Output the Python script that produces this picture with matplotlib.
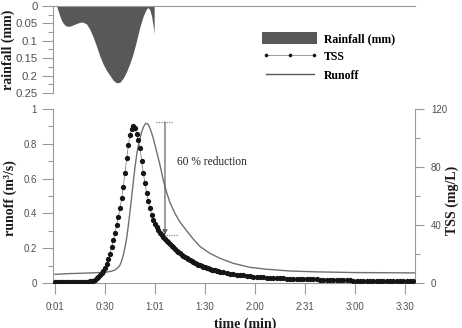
import numpy as np
import matplotlib
matplotlib.use("Agg")
import matplotlib.pyplot as plt
from matplotlib.patches import Patch
from matplotlib.lines import Line2D

# ---- data -----------------------------------------------------------------
# rainfall hyetograph, minutes / mm
RAIN_T = [2, 3, 4, 5, 6, 7, 8, 10, 12, 14, 16, 17, 18, 20, 22, 24, 26, 28, 30,
          32, 34, 36, 38, 40, 42, 44, 46, 48, 50, 52, 54, 56, 57, 58, 59, 60, 60.5]
RAIN_MM = [0.0, 0.015, 0.03, 0.042, 0.05, 0.055, 0.058, 0.058, 0.054, 0.05, 0.047,
           0.046, 0.047, 0.052, 0.068, 0.09, 0.117, 0.145, 0.168, 0.186, 0.2, 0.214,
           0.221, 0.219, 0.207, 0.188, 0.164, 0.135, 0.098, 0.059, 0.028, 0.007,
           0.005, 0.012, 0.03, 0.06, 0.08]

# runoff hydrograph, minutes / m3/s
RUNOFF_T = [1, 10, 20, 28, 32, 35, 37, 39, 40, 41, 42, 43, 44, 45, 46, 47, 48, 49,
            50, 51, 52, 53, 54, 55, 56, 57, 58, 59, 60, 61, 62, 64, 66, 68, 70, 73,
            76, 80, 84, 88, 94, 100, 108, 118, 128, 142, 158, 181, 200, 217]
RUNOFF = [0.050, 0.054, 0.057, 0.060, 0.063, 0.068, 0.075, 0.090, 0.103, 0.128,
          0.161, 0.205, 0.257, 0.33, 0.41, 0.495, 0.582, 0.665, 0.736, 0.79, 0.83,
          0.868, 0.895, 0.912, 0.918, 0.91, 0.889, 0.862, 0.83, 0.793, 0.755, 0.678,
          0.59, 0.52, 0.462, 0.40, 0.35, 0.30, 0.252, 0.21, 0.17, 0.142, 0.113,
          0.09, 0.079, 0.069, 0.064, 0.060, 0.059, 0.058]

# TSS pollutograph, mg/L: every minute 1..100, then every 2 minutes 102..216
TSS_1MIN = [1.0] * 20 + [
    1.0, 1.1, 1.3, 1.7, 2.3, 3.2, 4.3, 5.6, 7.0, 8.4,
    10.5, 13.0, 16.3, 20.2, 24.7, 29.5, 34.5, 40.0, 45.5, 51.5,
    58.5, 66.5, 76.0, 86.0, 95.0, 102.0, 106.5, 108.5, 107.0, 103.0,
    98.5, 93.0, 84.0, 76.0, 69.0, 62.0, 56.5, 51.5, 47.0, 43.5,
    40.8, 38.5, 36.5, 34.8, 33.2, 31.8, 30.5, 29.3, 28.0, 26.8,
    25.7, 24.6, 23.5, 22.4, 21.4, 20.4, 19.5, 18.7, 17.9, 17.1,
    16.4, 15.7, 15.0, 14.4, 13.8, 13.2, 12.7, 12.2, 11.7, 11.2,
    10.8, 10.4, 10.0, 9.6, 9.3, 9.0, 8.7, 8.4, 8.1, 7.8]
TSS_2MIN = [7.3, 6.9, 6.5, 6.1, 5.8, 5.5, 5.2, 4.9, 4.6, 4.4,
            4.2, 4.0, 3.9, 3.7, 3.6, 3.5, 3.4, 3.3, 3.2, 3.1,
            3.0, 2.9, 2.85, 2.8, 2.7, 2.65, 2.6, 2.5, 2.45, 2.4,
            2.3, 2.25, 2.2, 2.1, 2.05, 2.0, 1.9, 1.85, 1.8, 1.7,
            1.65, 1.6, 1.55, 1.5, 1.45, 1.4, 1.4, 1.35, 1.3, 1.3,
            1.25, 1.2, 1.2, 1.2, 1.15, 1.15, 1.1, 1.1]

XTICKS = [1, 31, 61, 91, 121, 151, 181, 211]
XTICK_LABELS = ["0:01", "0:30", "1:01", "1:30", "2:00", "2:31", "3:00", "3:30"]

# peak reduction marker (minutes, m3/s)
RED_X = 67
RED_TOP = 0.925
RED_BOT = 0.276

# ---- style -----------------------------------------------------------------
SANS = "Liberation Sans"
SERIF = "Liberation Serif"
SPINE = "#9a9a9a"
TICKC = "#505050"
plt.rcParams["font.family"] = SANS

tss_t = np.concatenate([np.arange(1, 101), np.arange(102, 217, 2)])
tss = np.array(TSS_1MIN + TSS_2MIN)

fig = plt.figure(figsize=(4.62, 3.28), dpi=100)
ax_r = fig.add_axes([0.1147, 0.7165, 0.7835, 0.2652])
ax = fig.add_axes([0.1147, 0.1372, 0.7835, 0.5305])
ax2 = ax.twinx()

XLIM = (-0.2, 217)


def style_spines(a, keep):
    for s in ["left", "right", "top", "bottom"]:
        a.spines[s].set_visible(s in keep)
        a.spines[s].set_color(SPINE)
        a.spines[s].set_linewidth(0.8)


# ---- rainfall (top) -------------------------------------------------------
ax_r.fill_between(RAIN_T, 0, RAIN_MM, color="#585858", lw=0)
ax_r.set_xlim(*XLIM)
ax_r.set_ylim(0.25, 0)
ax_r.set_xticks([])
ax_r.set_yticks([0, 0.05, 0.1, 0.15, 0.2, 0.25])
ax_r.set_yticklabels(["0", "0.05", "0.1", "0.15", "0.2", "0.25"])
ax_r.set_yticks(np.arange(0.025, 0.25, 0.05), minor=True)
style_spines(ax_r, ["left", "top"])
ax_r.patch.set_alpha(0)

# ---- runoff + TSS (bottom) ------------------------------------------------
ax.plot(RUNOFF_T, RUNOFF, color="#707070", lw=1.0, zorder=3)
ax2.plot(tss_t, tss, color="#8a8a8a", lw=0.6, marker="o", ms=3.8,
         mfc="#151515", mec="none", zorder=4)

ax.set_xlim(*XLIM)
ax.set_ylim(0, 1)
ax2.set_ylim(0, 120)
ax.set_xticks(XTICKS)
ax.set_xticklabels(XTICK_LABELS)
ax.set_yticks([0, 0.2, 0.4, 0.6, 0.8, 1.0])
ax.set_yticklabels(["0", "0.2", "0.4", "0.6", "0.8", "1"])
ax.set_yticks(np.arange(0.1, 1.0, 0.2), minor=True)
ax2.set_yticks([0, 40, 80, 120])
ax2.set_yticks([20, 60, 100], minor=True)
style_spines(ax, ["left", "bottom"])
style_spines(ax2, ["right"])

for a in (ax_r, ax, ax2):
    a.tick_params(which="major", length=8, width=0.8, color=SPINE,
                  labelsize=6.9, labelcolor=TICKC, pad=3.5)
    a.tick_params(which="minor", length=3.8, width=0.8, color=SPINE)
ax_r.tick_params(axis="y", labelsize=8.2, pad=3)
ax.tick_params(axis="x", length=8, pad=6)
ax2.tick_params(axis="y", which="major", length=6.5, pad=5)

# 60 % reduction marker
ax.plot([61.6, 71.8], [RED_TOP, RED_TOP], color="#888888", lw=0.9, ls=(0, (1, 1)))
ax.plot([67.6, 74.8], [RED_BOT, RED_BOT], color="#888888", lw=0.9, ls=(0, (1, 1)))
ax.annotate("", xy=(RED_X, RED_BOT), xytext=(RED_X, RED_TOP),
            arrowprops=dict(arrowstyle="-|>", color="#666666", lw=0.9,
                            mutation_scale=7, shrinkA=0, shrinkB=0))
ax.text(74, 0.695, "60 % reduction", family=SERIF, fontsize=8.3,
        color="#222222", va="center", ha="left")

# ---- labels ----------------------------------------------------------------
lab = dict(family=SERIF, fontweight="bold", fontsize=10, color="#1a1a1a")
fig.text(8 / 462, 1 - 50 / 328, "rainfall (mm)", rotation=90,
         ha="center", va="center", **lab)
fig.text(10 / 462, 1 - 198 / 328, "runoff (m³/s)", rotation=90,
         ha="center", va="center", **lab)
fig.text(452 / 462, 1 - 200 / 328, "TSS (mg/L)", rotation=90,
         ha="center", va="center", **lab)
fig.text(245 / 462, 1 - 318 / 328, "time (min)", ha="center", va="top", **lab)

# ---- legend ----------------------------------------------------------------
handles = [
    Patch(facecolor="#585858", edgecolor="none"),
    Line2D([], [], color="#8a8a8a", lw=0.6, marker="o", ms=2.6,
           mfc="#151515", mec="none"),
    Line2D([], [], color="#555555", lw=1.0),
]
fig.legend(handles, ["Rainfall (mm)", "TSS", "Runoff"],
           loc="upper left", bbox_to_anchor=(262 / 462, 1 - 32 / 328),
           frameon=False, borderpad=0, borderaxespad=0,
           handlelength=4.7, handleheight=1.2, handletextpad=0.55,
           labelspacing=0.45, numpoints=3,
           prop=dict(family=SERIF, weight="bold", size=8.5))

fig.savefig("out.png", dpi=100)
